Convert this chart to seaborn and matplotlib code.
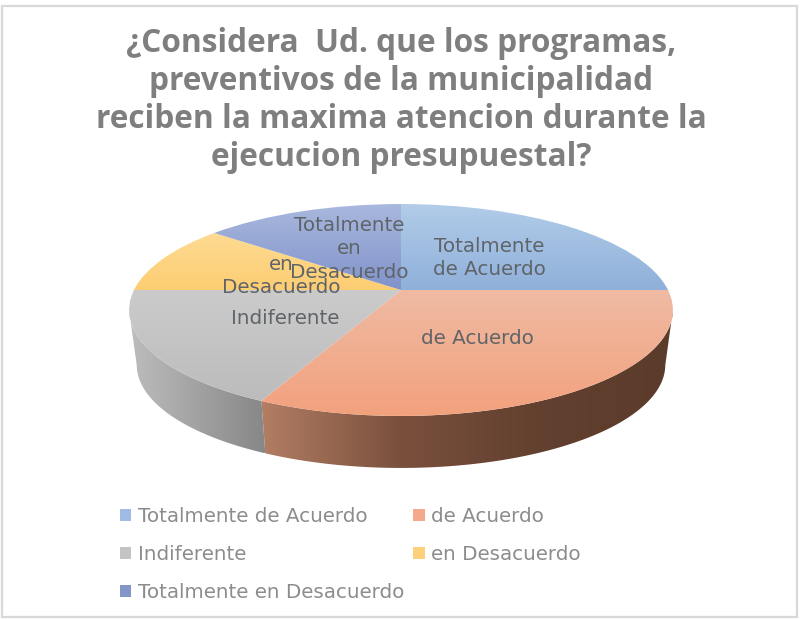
import numpy as np
import seaborn as sns
import matplotlib
matplotlib.use('Agg')
import matplotlib.pyplot as plt
from matplotlib.patches import Patch, Polygon, Rectangle
from matplotlib.transforms import Transform

# Survey answers (28 people)
categories = ['Totalmente de Acuerdo', 'de Acuerdo', 'Indiferente', 'en Desacuerdo', 'Totalmente en Desacuerdo']
counts = [7, 9, 5, 3, 4]
title = '¿Considera  Ud. que los programas,\npreventivos de la municipalidad\nreciben la maxima atencion durante la\nejecucion presupuestal?'

# Slice labels as they wrap on the chart
slice_labels = ['Totalmente\nde Acuerdo', 'de Acuerdo', 'Indiferente', 'en\nDesacuerdo', 'Totalmente\nen\nDesacuerdo']
label_x = [489, 477, 285, 281, 349]
label_y = [258, 338, 318, 276, 249]

# Colours: top of slice, bottom of slice, legend swatch
top_light = ['#b2cce9', '#efbaa3', '#cbcbcb', '#fedb93', '#a9b8de']
top_dark = ['#8fb0da', '#f3a17d', '#bcbcbc', '#fdcd72', '#8093ca']
legend_colors = ['#a0bce6', '#f4a98c', '#c4c4c4', '#fdd07c', '#8297c8']

# Wall shading, left to right
wall_gray = ['#bdbdbd', '#878787']
wall_orange = ['#b27d63', '#7a503d', '#63402f', '#5b3b2b']

# Perspective of the disc, in pixels
apex_x, apex_y = 401, 290
persp_a, persp_b, persp_k = 267, 102.2, 0.1887
wall_scale, wall_drop = 0.972, 55.5


class DiscPerspective(Transform):
    input_dims = 2
    output_dims = 2
    is_separable = False

    def transform_non_affine(self, values):
        values = np.asarray(values, dtype=float)
        w = 1 + persp_k * values[:, 1]
        return np.column_stack((apex_x + persp_a * values[:, 0] / w, apex_y - persp_b * values[:, 1] / w))


def rim_points(theta_from, theta_to, scale=1.0, drop=0.0, n=80):
    # theta is clockwise from the top of the disc, in degrees
    theta = np.radians(np.linspace(theta_from, theta_to, n))
    pts = DiscPerspective().transform(np.column_stack((np.sin(theta), np.cos(theta))))
    pts[:, 0] = apex_x + (pts[:, 0] - apex_x) * scale
    pts[:, 1] = apex_y + (pts[:, 1] - apex_y) * scale + drop
    return pts


sns.set_theme(style='white')
plt.rcParams['font.family'] = ['DejaVu Sans']

fig, ax = plt.subplots(figsize=(8, 6.19), dpi=100)
ax.set_position([0, 0, 1, 1])

wedges, _ = ax.pie(counts, startangle=90, counterclock=False, normalize=True)

# Angles of the slice edges, from the counts
edges = np.cumsum([0] + counts) / sum(counts) * 360

# The wall's outline leaves the disc where the disc is widest
rim_x = rim_points(0, 359, n=360)[:, 0]
widest_right = float(np.argmax(rim_x))
widest_left = float(np.argmin(rim_x))


def shade(colors, extent, vertical, clip, z):
    ramp = np.array(sns.blend_palette(colors, n_colors=128))
    img = ramp[:, None, :] if vertical else ramp[None, :, :]
    im = ax.imshow(img, extent=extent, aspect='auto', origin='upper', zorder=z, interpolation='bilinear')
    im.set_clip_path(clip)


# Outer wall of the two front slices
wall_parts = [(widest_right, edges[2], wall_orange), (edges[2], widest_left, wall_gray)]
for start, stop, colors in wall_parts:
    wall = np.vstack((rim_points(start, stop), rim_points(stop, start, wall_scale, wall_drop)))
    poly = Polygon(wall, closed=True, facecolor='none', edgecolor='none', transform=ax.transData)
    ax.add_patch(poly)
    xmin, xmax = wall[:, 0].min(), wall[:, 0].max()
    shade(colors, (xmin, xmax, wall[:, 1].max(), wall[:, 1].min()), False, poly, 1)

# Top face, pie wedges pushed through the perspective
persp = DiscPerspective()
for wedge, light, dark in zip(wedges, top_light, top_dark):
    wedge.set_transform(persp + ax.transData)
    wedge.set_facecolor('none')
    wedge.set_edgecolor('none')
    box = persp.transform_path(wedge.get_path()).get_extents()
    shade([light, dark], (box.x0, box.x1, box.y1, box.y0), True, wedge, 2)

for text, x, y in zip(slice_labels, label_x, label_y):
    ax.text(x, y, text, ha='center', va='center', fontsize=14.3, color='#5f6468', linespacing=1.29, zorder=5)

ax.text(401, 100, title, ha='center', va='center', fontsize=22.8, fontweight='bold', color='#7f7f7f',
        linespacing=1.2, family=['Open Sans', 'DejaVu Sans'])

# Chart frame
ax.add_patch(Rectangle((2, 6), 795, 611, facecolor='none', edgecolor='#d9d9d9', linewidth=1.6, zorder=0))

# Legend fills by column, so reorder to read across
order = [0, 2, 4, 1, 3]
handles = [Patch(facecolor=legend_colors[i], edgecolor='none', label=categories[i]) for i in order]
fig.legend(handles=handles, ncol=2, loc='upper left', bbox_to_anchor=(119.5 / 800, 1 - 507 / 619), frameon=False,
           fontsize=14.3, labelcolor='#8c8c8c', handlelength=0.6, handleheight=0.6, handletextpad=0.32,
           labelspacing=0.96, columnspacing=0.45, borderpad=0, borderaxespad=0)

ax.set_aspect('auto')
ax.set_xlim(0, 800)
ax.set_ylim(619, 0)
ax.axis('off')

fig.savefig('out.png', dpi=100, facecolor='white')
